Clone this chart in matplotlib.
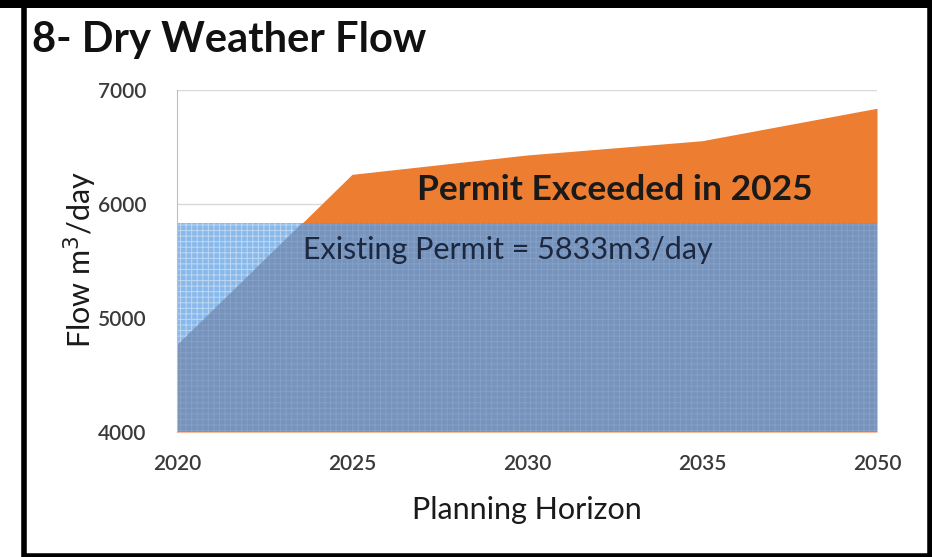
import numpy as np
import matplotlib.pyplot as plt
from matplotlib.patches import Rectangle

# data
years = ["2020", "2025", "2030", "2035", "2050"]
flow = [4760, 6260, 6430, 6555, 6840]
permit = 5833
y_ticks = [4000, 5000, 6000, 7000]

plt.rcParams['font.family'] = ['Lato', 'DejaVu Sans']
plt.rcParams['hatch.linewidth'] = 0.7

fig = plt.figure(figsize=(9.32, 5.57), dpi=100)
ax = fig.add_axes([177 / 932, 125 / 557, 700 / 932, 342 / 557])

x = np.arange(len(years))
base = y_ticks[0]

# whole flow area in orange
ax.fill_between(x, base, flow, color='#ED7D31', lw=0, zorder=2)

# existing permit, patterned light blue
ax.fill_between([x[0], x[-1]], base, permit, facecolor='#89B8EA',
                edgecolor=(1, 1, 1, 0.45), hatch='+++', lw=0, zorder=3)

# part of the flow that stays under the permit
under = ax.fill_between(x, base, flow, facecolor='#7593BC',
                        edgecolor=(1, 1, 1, 0.12), hatch='+++', lw=0, zorder=4)
under.set_clip_path(Rectangle((x[0], base), x[-1] - x[0], permit - base,
                              transform=ax.transData))

ax.set_xlim(x[0], x[-1])
ax.set_ylim(y_ticks[0], y_ticks[-1])
ax.set_xticks(x)
ax.set_xticklabels(years)
ax.set_yticks(y_ticks)
ax.tick_params(length=0, labelsize=15, labelcolor='#3a3a3a')
ax.tick_params(axis='x', pad=16)
ax.tick_params(axis='y', pad=22)
for lab in ax.get_xticklabels() + ax.get_yticklabels():
    lab.set_fontweight('semibold')
ax.grid(axis='y', color='#d9d9d9', lw=1, zorder=1)
ax.set_axisbelow(True)
for s in ['top', 'right', 'bottom']:
    ax.spines[s].set_visible(False)
ax.spines['left'].set_color('#bfbfbf')
ax.spines['left'].set_zorder(5)

# y title placed directly in figure pixels
fig.text(80 / 932, 1 - 260 / 557, 'Flow m$^3$/day', fontsize=22,
         color='#1a1a1a', rotation=90, ha='center', va='center')
ax.set_xlabel('Planning Horizon', fontsize=22, color='#1a1a1a', labelpad=16)

ax.text(2.5, 6125, 'Permit Exceeded in 2025', fontsize=25.5, fontweight='bold',
        color='#1a1a1a', ha='center', va='center', zorder=6)
ax.text(0.72, 5600, 'Existing Permit = 5833m3/day', fontsize=22,
        color='#1c2740', ha='left', va='center', zorder=6)

fig.text(32 / 932, 1 - 40 / 557, '8- Dry Weather Flow', fontsize=30,
         fontweight='bold', color='#111111', ha='left', va='center')

# black frame around the picture
fig.patches.append(Rectangle((24 / 932, 1 / 557), 906 / 932, 551 / 557,
                             transform=fig.transFigure, fill=False,
                             edgecolor='black', lw=4))
fig.patches.append(Rectangle((0, 1 - 8 / 557), 1, 8 / 557,
                             transform=fig.transFigure, color='black', lw=0))

fig.savefig('out.png', dpi=100)
